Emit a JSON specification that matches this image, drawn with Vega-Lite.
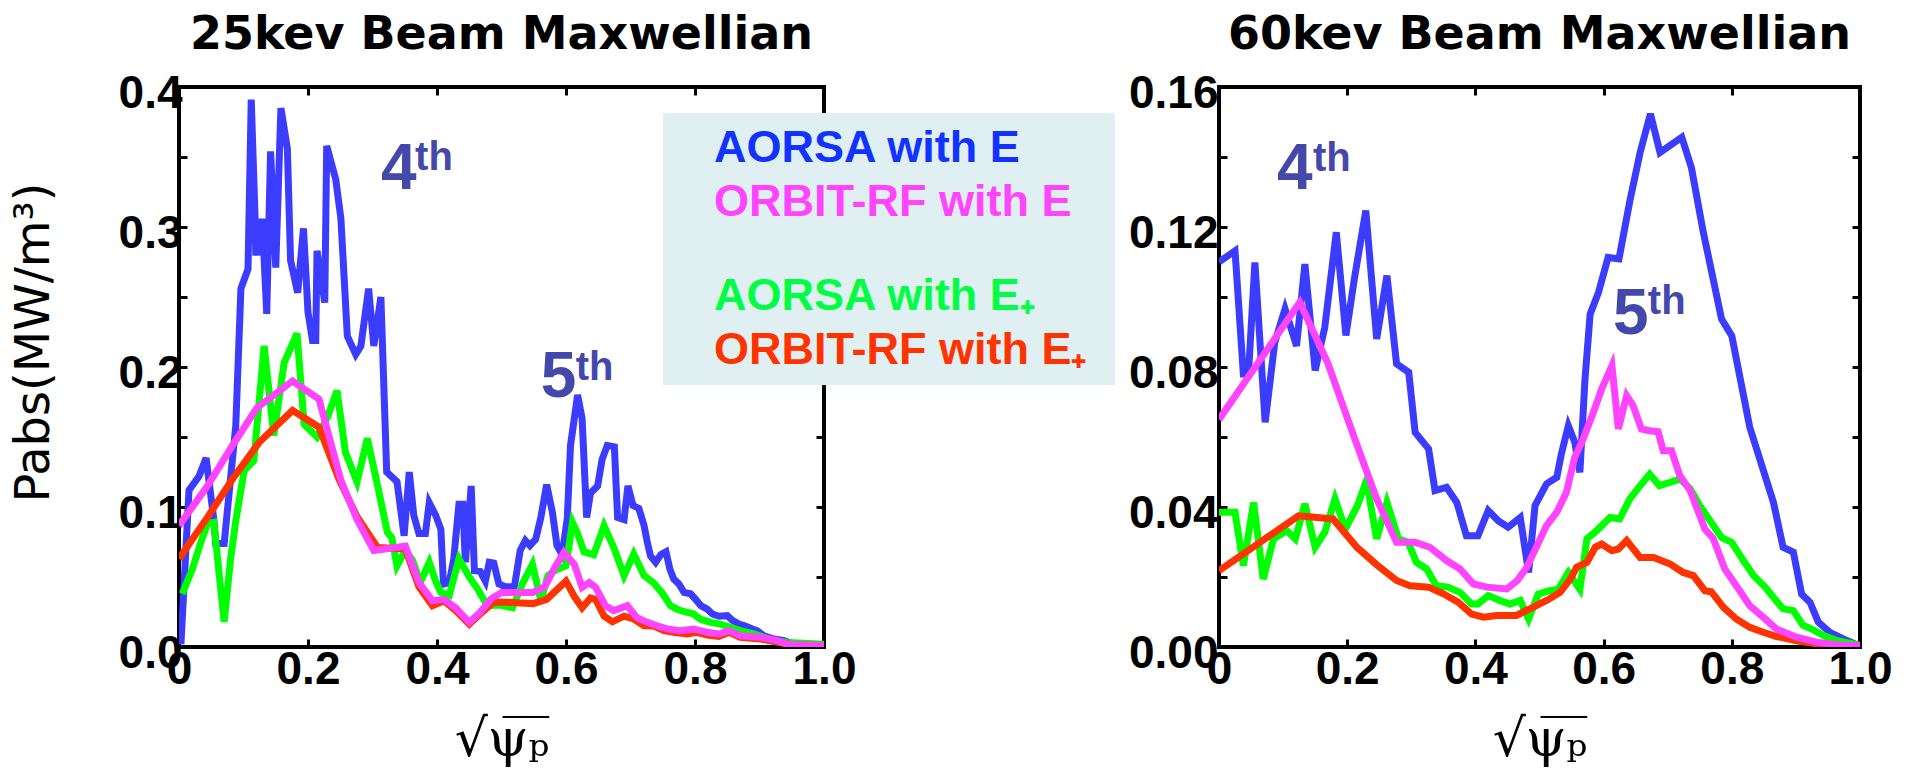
{
  "$schema": "https://vega.github.io/schema/vega-lite/v6.json",
  "background": "white",
  "padding": {"left": 8, "top": 10, "right": 0, "bottom": 0},
  "datasets": {
    "p25": [
      {"series":"AORSA with E","x":0.003,"y":0.002},{"series":"AORSA with E","x":0.0155,"y":0.112},{"series":"AORSA with E","x":0.031,"y":0.122},{"series":"AORSA with E","x":0.042,"y":0.135},{"series":"AORSA with E","x":0.054,"y":0.091},{"series":"AORSA with E","x":0.057,"y":0.074},{"series":"AORSA with E","x":0.07,"y":0.074},{"series":"AORSA with E","x":0.088,"y":0.158},{"series":"AORSA with E","x":0.096,"y":0.256},{"series":"AORSA with E","x":0.107,"y":0.27},{"series":"AORSA with E","x":0.112,"y":0.391},{"series":"AORSA with E","x":0.118,"y":0.306},{"series":"AORSA with E","x":0.119,"y":0.282},{"series":"AORSA with E","x":0.128,"y":0.282},{"series":"AORSA with E","x":0.129,"y":0.306},{"series":"AORSA with E","x":0.136,"y":0.238},{"series":"AORSA with E","x":0.142,"y":0.354},{"series":"AORSA with E","x":0.15,"y":0.271},{"series":"AORSA with E","x":0.158,"y":0.385},{"series":"AORSA with E","x":0.168,"y":0.356},{"series":"AORSA with E","x":0.173,"y":0.276},{"series":"AORSA with E","x":0.184,"y":0.253},{"series":"AORSA with E","x":0.193,"y":0.299},{"series":"AORSA with E","x":0.2,"y":0.239},{"series":"AORSA with E","x":0.207,"y":0.219},{"series":"AORSA with E","x":0.212,"y":0.219},{"series":"AORSA with E","x":0.214,"y":0.283},{"series":"AORSA with E","x":0.226,"y":0.246},{"series":"AORSA with E","x":0.229,"y":0.358},{"series":"AORSA with E","x":0.243,"y":0.334},{"series":"AORSA with E","x":0.251,"y":0.306},{"series":"AORSA with E","x":0.261,"y":0.222},{"series":"AORSA with E","x":0.274,"y":0.209},{"series":"AORSA with E","x":0.282,"y":0.215},{"series":"AORSA with E","x":0.294,"y":0.256},{"series":"AORSA with E","x":0.302,"y":0.215},{"series":"AORSA with E","x":0.313,"y":0.25},{"series":"AORSA with E","x":0.322,"y":0.125},{"series":"AORSA with E","x":0.338,"y":0.118},{"series":"AORSA with E","x":0.349,"y":0.0795},{"series":"AORSA with E","x":0.357,"y":0.125},{"series":"AORSA with E","x":0.364,"y":0.094},{"series":"AORSA with E","x":0.372,"y":0.081},{"series":"AORSA with E","x":0.382,"y":0.081},{"series":"AORSA with E","x":0.388,"y":0.103},{"series":"AORSA with E","x":0.398,"y":0.094},{"series":"AORSA with E","x":0.406,"y":0.084},{"series":"AORSA with E","x":0.41,"y":0.045},{"series":"AORSA with E","x":0.419,"y":0.046},{"series":"AORSA with E","x":0.426,"y":0.063},{"series":"AORSA with E","x":0.434,"y":0.102},{"series":"AORSA with E","x":0.44,"y":0.102},{"series":"AORSA with E","x":0.444,"y":0.0605},{"series":"AORSA with E","x":0.453,"y":0.115},{"series":"AORSA with E","x":0.458,"y":0.0545},{"series":"AORSA with E","x":0.467,"y":0.054},{"series":"AORSA with E","x":0.475,"y":0.047},{"series":"AORSA with E","x":0.481,"y":0.0605},{"series":"AORSA with E","x":0.488,"y":0.06},{"series":"AORSA with E","x":0.496,"y":0.045},{"series":"AORSA with E","x":0.506,"y":0.043},{"series":"AORSA with E","x":0.52,"y":0.043},{"series":"AORSA with E","x":0.529,"y":0.069},{"series":"AORSA with E","x":0.537,"y":0.076},{"series":"AORSA with E","x":0.544,"y":0.0725},{"series":"AORSA with E","x":0.553,"y":0.077},{"series":"AORSA with E","x":0.561,"y":0.0925},{"series":"AORSA with E","x":0.57,"y":0.116},{"series":"AORSA with E","x":0.579,"y":0.096},{"series":"AORSA with E","x":0.586,"y":0.0725},{"series":"AORSA with E","x":0.594,"y":0.066},{"series":"AORSA with E","x":0.602,"y":0.092},{"series":"AORSA with E","x":0.607,"y":0.144},{"series":"AORSA with E","x":0.618,"y":0.18},{"series":"AORSA with E","x":0.625,"y":0.163},{"series":"AORSA with E","x":0.632,"y":0.0925},{"series":"AORSA with E","x":0.638,"y":0.11},{"series":"AORSA with E","x":0.649,"y":0.115},{"series":"AORSA with E","x":0.656,"y":0.134},{"series":"AORSA with E","x":0.664,"y":0.144},{"series":"AORSA with E","x":0.675,"y":0.143},{"series":"AORSA with E","x":0.68,"y":0.0925},{"series":"AORSA with E","x":0.69,"y":0.091},{"series":"AORSA with E","x":0.696,"y":0.115},{"series":"AORSA with E","x":0.704,"y":0.101},{"series":"AORSA with E","x":0.713,"y":0.099},{"series":"AORSA with E","x":0.721,"y":0.0867},{"series":"AORSA with E","x":0.726,"y":0.075},{"series":"AORSA with E","x":0.731,"y":0.065},{"series":"AORSA with E","x":0.739,"y":0.0605},{"series":"AORSA with E","x":0.747,"y":0.066},{"series":"AORSA with E","x":0.755,"y":0.068},{"series":"AORSA with E","x":0.761,"y":0.0557},{"series":"AORSA with E","x":0.767,"y":0.0486},{"series":"AORSA with E","x":0.775,"y":0.045},{"series":"AORSA with E","x":0.783,"y":0.039},{"series":"AORSA with E","x":0.793,"y":0.038},{"series":"AORSA with E","x":0.801,"y":0.034},{"series":"AORSA with E","x":0.809,"y":0.0295},{"series":"AORSA with E","x":0.819,"y":0.027},{"series":"AORSA with E","x":0.827,"y":0.0236},{"series":"AORSA with E","x":0.837,"y":0.022},{"series":"AORSA with E","x":0.85,"y":0.0224},{"series":"AORSA with E","x":0.858,"y":0.019},{"series":"AORSA with E","x":0.868,"y":0.0164},{"series":"AORSA with E","x":0.878,"y":0.015},{"series":"AORSA with E","x":0.889,"y":0.0129},{"series":"AORSA with E","x":0.896,"y":0.0117},{"series":"AORSA with E","x":0.907,"y":0.008},{"series":"AORSA with E","x":0.92,"y":0.006},{"series":"AORSA with E","x":0.938,"y":0.0045},{"series":"AORSA with E","x":0.954,"y":0.002},{"series":"AORSA with E","x":1.0,"y":0.001},
      {"series":"AORSA with E₊","x":0.005,"y":0.038},{"series":"AORSA with E₊","x":0.021,"y":0.056},{"series":"AORSA with E₊","x":0.034,"y":0.075},{"series":"AORSA with E₊","x":0.044,"y":0.088},{"series":"AORSA with E₊","x":0.054,"y":0.089},{"series":"AORSA with E₊","x":0.07,"y":0.018},{"series":"AORSA with E₊","x":0.08,"y":0.063},{"series":"AORSA with E₊","x":0.088,"y":0.09},{"series":"AORSA with E₊","x":0.101,"y":0.126},{"series":"AORSA with E₊","x":0.116,"y":0.133},{"series":"AORSA with E₊","x":0.132,"y":0.215},{"series":"AORSA with E₊","x":0.147,"y":0.151},{"series":"AORSA with E₊","x":0.163,"y":0.203},{"series":"AORSA with E₊","x":0.183,"y":0.224},{"series":"AORSA with E₊","x":0.194,"y":0.159},{"series":"AORSA with E₊","x":0.214,"y":0.15},{"series":"AORSA with E₊","x":0.23,"y":0.164},{"series":"AORSA with E₊","x":0.245,"y":0.183},{"series":"AORSA with E₊","x":0.258,"y":0.139},{"series":"AORSA with E₊","x":0.276,"y":0.118},{"series":"AORSA with E₊","x":0.292,"y":0.149},{"series":"AORSA with E₊","x":0.308,"y":0.115},{"series":"AORSA with E₊","x":0.323,"y":0.082},{"series":"AORSA with E₊","x":0.33,"y":0.078},{"series":"AORSA with E₊","x":0.338,"y":0.058},{"series":"AORSA with E₊","x":0.351,"y":0.069},{"series":"AORSA with E₊","x":0.362,"y":0.062},{"series":"AORSA with E₊","x":0.374,"y":0.046},{"series":"AORSA with E₊","x":0.388,"y":0.0605},{"series":"AORSA with E₊","x":0.398,"y":0.047},{"series":"AORSA with E₊","x":0.406,"y":0.039},{"series":"AORSA with E₊","x":0.419,"y":0.037},{"series":"AORSA with E₊","x":0.434,"y":0.063},{"series":"AORSA with E₊","x":0.45,"y":0.05},{"series":"AORSA with E₊","x":0.463,"y":0.0414},{"series":"AORSA with E₊","x":0.478,"y":0.0295},{"series":"AORSA with E₊","x":0.498,"y":0.03},{"series":"AORSA with E₊","x":0.517,"y":0.028},{"series":"AORSA with E₊","x":0.533,"y":0.0457},{"series":"AORSA with E₊","x":0.548,"y":0.059},{"series":"AORSA with E₊","x":0.561,"y":0.033},{"series":"AORSA with E₊","x":0.572,"y":0.051},{"series":"AORSA with E₊","x":0.584,"y":0.055},{"series":"AORSA with E₊","x":0.6,"y":0.058},{"series":"AORSA with E₊","x":0.61,"y":0.089},{"series":"AORSA with E₊","x":0.618,"y":0.081},{"series":"AORSA with E₊","x":0.628,"y":0.068},{"series":"AORSA with E₊","x":0.643,"y":0.066},{"series":"AORSA with E₊","x":0.659,"y":0.0867},{"series":"AORSA with E₊","x":0.675,"y":0.07},{"series":"AORSA with E₊","x":0.69,"y":0.051},{"series":"AORSA with E₊","x":0.705,"y":0.0664},{"series":"AORSA with E₊","x":0.721,"y":0.051},{"series":"AORSA with E₊","x":0.736,"y":0.0457},{"series":"AORSA with E₊","x":0.749,"y":0.0386},{"series":"AORSA with E₊","x":0.762,"y":0.0295},{"series":"AORSA with E₊","x":0.772,"y":0.027},{"series":"AORSA with E₊","x":0.785,"y":0.025},{"series":"AORSA with E₊","x":0.798,"y":0.0236},{"series":"AORSA with E₊","x":0.808,"y":0.02},{"series":"AORSA with E₊","x":0.824,"y":0.0176},{"series":"AORSA with E₊","x":0.839,"y":0.0164},{"series":"AORSA with E₊","x":0.855,"y":0.014},{"series":"AORSA with E₊","x":0.87,"y":0.0117},{"series":"AORSA with E₊","x":0.891,"y":0.0093},{"series":"AORSA with E₊","x":0.907,"y":0.007},{"series":"AORSA with E₊","x":0.922,"y":0.0045},{"series":"AORSA with E₊","x":0.943,"y":0.0033},{"series":"AORSA with E₊","x":1.0,"y":0.002},
      {"series":"ORBIT-RF with E","x":0.0,"y":0.0867},{"series":"ORBIT-RF with E","x":0.044,"y":0.115},{"series":"ORBIT-RF with E","x":0.083,"y":0.144},{"series":"ORBIT-RF with E","x":0.121,"y":0.171},{"series":"ORBIT-RF with E","x":0.176,"y":0.19},{"series":"ORBIT-RF with E","x":0.217,"y":0.177},{"series":"ORBIT-RF with E","x":0.251,"y":0.119},{"series":"ORBIT-RF with E","x":0.276,"y":0.091},{"series":"ORBIT-RF with E","x":0.302,"y":0.069},{"series":"ORBIT-RF with E","x":0.351,"y":0.072},{"series":"ORBIT-RF with E","x":0.372,"y":0.046},{"series":"ORBIT-RF with E","x":0.393,"y":0.033},{"series":"ORBIT-RF with E","x":0.411,"y":0.034},{"series":"ORBIT-RF with E","x":0.429,"y":0.028},{"series":"ORBIT-RF with E","x":0.45,"y":0.0176},{"series":"ORBIT-RF with E","x":0.467,"y":0.0248},{"series":"ORBIT-RF with E","x":0.483,"y":0.034},{"series":"ORBIT-RF with E","x":0.5,"y":0.039},{"series":"ORBIT-RF with E","x":0.523,"y":0.039},{"series":"ORBIT-RF with E","x":0.549,"y":0.039},{"series":"ORBIT-RF with E","x":0.567,"y":0.043},{"series":"ORBIT-RF with E","x":0.584,"y":0.058},{"series":"ORBIT-RF with E","x":0.597,"y":0.0676},{"series":"ORBIT-RF with E","x":0.613,"y":0.059},{"series":"ORBIT-RF with E","x":0.625,"y":0.0426},{"series":"ORBIT-RF with E","x":0.636,"y":0.046},{"series":"ORBIT-RF with E","x":0.646,"y":0.0426},{"series":"ORBIT-RF with E","x":0.661,"y":0.0295},{"series":"ORBIT-RF with E","x":0.674,"y":0.026},{"series":"ORBIT-RF with E","x":0.695,"y":0.0295},{"series":"ORBIT-RF with E","x":0.71,"y":0.021},{"series":"ORBIT-RF with E","x":0.726,"y":0.0176},{"series":"ORBIT-RF with E","x":0.741,"y":0.0152},{"series":"ORBIT-RF with E","x":0.757,"y":0.0129},{"series":"ORBIT-RF with E","x":0.777,"y":0.0117},{"series":"ORBIT-RF with E","x":0.798,"y":0.0129},{"series":"ORBIT-RF with E","x":0.819,"y":0.0105},{"series":"ORBIT-RF with E","x":0.837,"y":0.0093},{"series":"ORBIT-RF with E","x":0.853,"y":0.0117},{"series":"ORBIT-RF with E","x":0.87,"y":0.008},{"series":"ORBIT-RF with E","x":0.902,"y":0.007},{"series":"ORBIT-RF with E","x":0.928,"y":0.0045},{"series":"ORBIT-RF with E","x":0.943,"y":0.002},{"series":"ORBIT-RF with E","x":1.0,"y":0.001},
      {"series":"ORBIT-RF with E₊","x":0.0,"y":0.063},{"series":"ORBIT-RF with E₊","x":0.044,"y":0.0926},{"series":"ORBIT-RF with E₊","x":0.083,"y":0.12},{"series":"ORBIT-RF with E₊","x":0.124,"y":0.146},{"series":"ORBIT-RF with E₊","x":0.176,"y":0.169},{"series":"ORBIT-RF with E₊","x":0.217,"y":0.157},{"series":"ORBIT-RF with E₊","x":0.248,"y":0.12},{"series":"ORBIT-RF with E₊","x":0.276,"y":0.093},{"series":"ORBIT-RF with E₊","x":0.308,"y":0.071},{"series":"ORBIT-RF with E₊","x":0.351,"y":0.07},{"series":"ORBIT-RF with E₊","x":0.372,"y":0.043},{"series":"ORBIT-RF with E₊","x":0.393,"y":0.0295},{"series":"ORBIT-RF with E₊","x":0.411,"y":0.033},{"series":"ORBIT-RF with E₊","x":0.429,"y":0.026},{"series":"ORBIT-RF with E₊","x":0.45,"y":0.0164},{"series":"ORBIT-RF with E₊","x":0.467,"y":0.0236},{"series":"ORBIT-RF with E₊","x":0.488,"y":0.032},{"series":"ORBIT-RF with E₊","x":0.509,"y":0.032},{"series":"ORBIT-RF with E₊","x":0.529,"y":0.0315},{"series":"ORBIT-RF with E₊","x":0.549,"y":0.031},{"series":"ORBIT-RF with E₊","x":0.57,"y":0.034},{"series":"ORBIT-RF with E₊","x":0.586,"y":0.041},{"series":"ORBIT-RF with E₊","x":0.6,"y":0.047},{"series":"ORBIT-RF with E₊","x":0.613,"y":0.036},{"series":"ORBIT-RF with E₊","x":0.625,"y":0.028},{"series":"ORBIT-RF with E₊","x":0.638,"y":0.035},{"series":"ORBIT-RF with E₊","x":0.646,"y":0.034},{"series":"ORBIT-RF with E₊","x":0.659,"y":0.022},{"series":"ORBIT-RF with E₊","x":0.672,"y":0.018},{"series":"ORBIT-RF with E₊","x":0.69,"y":0.022},{"series":"ORBIT-RF with E₊","x":0.705,"y":0.02},{"series":"ORBIT-RF with E₊","x":0.721,"y":0.0152},{"series":"ORBIT-RF with E₊","x":0.736,"y":0.015},{"series":"ORBIT-RF with E₊","x":0.752,"y":0.0117},{"series":"ORBIT-RF with E₊","x":0.767,"y":0.0105},{"series":"ORBIT-RF with E₊","x":0.788,"y":0.0093},{"series":"ORBIT-RF with E₊","x":0.803,"y":0.0105},{"series":"ORBIT-RF with E₊","x":0.819,"y":0.0086},{"series":"ORBIT-RF with E₊","x":0.837,"y":0.0076},{"series":"ORBIT-RF with E₊","x":0.853,"y":0.0105},{"series":"ORBIT-RF with E₊","x":0.87,"y":0.007},{"series":"ORBIT-RF with E₊","x":0.902,"y":0.0057},{"series":"ORBIT-RF with E₊","x":0.928,"y":0.0033},{"series":"ORBIT-RF with E₊","x":0.954,"y":0.0014},{"series":"ORBIT-RF with E₊","x":1.0,"y":0.001}
    ],
    "p60": [
      {"series":"AORSA with E","x":0.0,"y":0.11},{"series":"AORSA with E","x":0.025,"y":0.1132},{"series":"AORSA with E","x":0.038,"y":0.078},{"series":"AORSA with E","x":0.046,"y":0.078},{"series":"AORSA with E","x":0.056,"y":0.1099},{"series":"AORSA with E","x":0.072,"y":0.0642},{"series":"AORSA with E","x":0.087,"y":0.087},{"series":"AORSA with E","x":0.103,"y":0.0966},{"series":"AORSA with E","x":0.121,"y":0.086},{"series":"AORSA with E","x":0.134,"y":0.1094},{"series":"AORSA with E","x":0.15,"y":0.079},{"series":"AORSA with E","x":0.165,"y":0.0913},{"series":"AORSA with E","x":0.183,"y":0.1185},{"series":"AORSA with E","x":0.198,"y":0.089},{"series":"AORSA with E","x":0.211,"y":0.105},{"series":"AORSA with E","x":0.229,"y":0.1247},{"series":"AORSA with E","x":0.246,"y":0.088},{"series":"AORSA with E","x":0.262,"y":0.1061},{"series":"AORSA with E","x":0.277,"y":0.0809},{"series":"AORSA with E","x":0.296,"y":0.0785},{"series":"AORSA with E","x":0.306,"y":0.0613},{"series":"AORSA with E","x":0.327,"y":0.0566},{"series":"AORSA with E","x":0.337,"y":0.0447},{"series":"AORSA with E","x":0.355,"y":0.0456},{"series":"AORSA with E","x":0.371,"y":0.0413},{"series":"AORSA with E","x":0.386,"y":0.0318},{"series":"AORSA with E","x":0.404,"y":0.0318},{"series":"AORSA with E","x":0.42,"y":0.039},{"series":"AORSA with E","x":0.436,"y":0.036},{"series":"AORSA with E","x":0.451,"y":0.0342},{"series":"AORSA with E","x":0.47,"y":0.037},{"series":"AORSA with E","x":0.483,"y":0.0213},{"series":"AORSA with E","x":0.493,"y":0.0404},{"series":"AORSA with E","x":0.511,"y":0.0466},{"series":"AORSA with E","x":0.527,"y":0.0485},{"series":"AORSA with E","x":0.534,"y":0.0551},{"series":"AORSA with E","x":0.545,"y":0.0632},{"series":"AORSA with E","x":0.555,"y":0.0585},{"series":"AORSA with E","x":0.563,"y":0.0499},{"series":"AORSA with E","x":0.571,"y":0.0766},{"series":"AORSA with E","x":0.579,"y":0.0951},{"series":"AORSA with E","x":0.592,"y":0.1013},{"series":"AORSA with E","x":0.607,"y":0.1113},{"series":"AORSA with E","x":0.624,"y":0.1109},{"series":"AORSA with E","x":0.641,"y":0.1275},{"series":"AORSA with E","x":0.657,"y":0.1413},{"series":"AORSA with E","x":0.673,"y":0.1523},{"series":"AORSA with E","x":0.688,"y":0.1413},{"series":"AORSA with E","x":0.722,"y":0.1456},{"series":"AORSA with E","x":0.737,"y":0.137},{"series":"AORSA with E","x":0.755,"y":0.119},{"series":"AORSA with E","x":0.784,"y":0.0937},{"series":"AORSA with E","x":0.8,"y":0.0889},{"series":"AORSA with E","x":0.828,"y":0.0628},{"series":"AORSA with E","x":0.865,"y":0.0413},{"series":"AORSA with E","x":0.88,"y":0.0285},{"series":"AORSA with E","x":0.896,"y":0.0271},{"series":"AORSA with E","x":0.909,"y":0.0151},{"series":"AORSA with E","x":0.922,"y":0.0128},{"series":"AORSA with E","x":0.935,"y":0.0071},{"series":"AORSA with E","x":0.953,"y":0.0042},{"series":"AORSA with E","x":0.974,"y":0.0023},{"series":"AORSA with E","x":1.0,"y":0.0003},
      {"series":"AORSA with E₊","x":0.0,"y":0.0385},{"series":"AORSA with E₊","x":0.025,"y":0.0385},{"series":"AORSA with E₊","x":0.038,"y":0.0232},{"series":"AORSA with E₊","x":0.054,"y":0.0413},{"series":"AORSA with E₊","x":0.069,"y":0.0194},{"series":"AORSA with E₊","x":0.085,"y":0.0309},{"series":"AORSA with E₊","x":0.106,"y":0.0332},{"series":"AORSA with E₊","x":0.119,"y":0.0309},{"series":"AORSA with E₊","x":0.134,"y":0.0409},{"series":"AORSA with E₊","x":0.15,"y":0.0285},{"series":"AORSA with E₊","x":0.165,"y":0.0328},{"series":"AORSA with E₊","x":0.181,"y":0.0423},{"series":"AORSA with E₊","x":0.197,"y":0.0337},{"series":"AORSA with E₊","x":0.216,"y":0.0404},{"series":"AORSA with E₊","x":0.23,"y":0.0475},{"series":"AORSA with E₊","x":0.246,"y":0.0309},{"series":"AORSA with E₊","x":0.262,"y":0.0413},{"series":"AORSA with E₊","x":0.28,"y":0.0309},{"series":"AORSA with E₊","x":0.295,"y":0.0299},{"series":"AORSA with E₊","x":0.308,"y":0.0242},{"series":"AORSA with E₊","x":0.324,"y":0.0223},{"series":"AORSA with E₊","x":0.339,"y":0.0175},{"series":"AORSA with E₊","x":0.357,"y":0.0171},{"series":"AORSA with E₊","x":0.376,"y":0.0156},{"series":"AORSA with E₊","x":0.394,"y":0.0123},{"series":"AORSA with E₊","x":0.404,"y":0.0123},{"series":"AORSA with E₊","x":0.42,"y":0.0147},{"series":"AORSA with E₊","x":0.438,"y":0.0133},{"series":"AORSA with E₊","x":0.454,"y":0.0123},{"series":"AORSA with E₊","x":0.47,"y":0.0133},{"series":"AORSA with E₊","x":0.483,"y":0.008},{"series":"AORSA with E₊","x":0.498,"y":0.0151},{"series":"AORSA with E₊","x":0.514,"y":0.016},{"series":"AORSA with E₊","x":0.529,"y":0.0165},{"series":"AORSA with E₊","x":0.545,"y":0.0213},{"series":"AORSA with E₊","x":0.563,"y":0.0165},{"series":"AORSA with E₊","x":0.574,"y":0.0309},{"series":"AORSA with E₊","x":0.589,"y":0.0332},{"series":"AORSA with E₊","x":0.61,"y":0.037},{"series":"AORSA with E₊","x":0.625,"y":0.0366},{"series":"AORSA with E₊","x":0.641,"y":0.0423},{"series":"AORSA with E₊","x":0.657,"y":0.0461},{"series":"AORSA with E₊","x":0.672,"y":0.0494},{"series":"AORSA with E₊","x":0.687,"y":0.0461},{"series":"AORSA with E₊","x":0.703,"y":0.047},{"series":"AORSA with E₊","x":0.719,"y":0.048},{"series":"AORSA with E₊","x":0.735,"y":0.0452},{"series":"AORSA with E₊","x":0.75,"y":0.0404},{"series":"AORSA with E₊","x":0.768,"y":0.0356},{"series":"AORSA with E₊","x":0.784,"y":0.0313},{"series":"AORSA with E₊","x":0.8,"y":0.0299},{"series":"AORSA with E₊","x":0.818,"y":0.0247},{"series":"AORSA with E₊","x":0.834,"y":0.0204},{"series":"AORSA with E₊","x":0.852,"y":0.0171},{"series":"AORSA with E₊","x":0.867,"y":0.0137},{"series":"AORSA with E₊","x":0.88,"y":0.0109},{"series":"AORSA with E₊","x":0.896,"y":0.0104},{"series":"AORSA with E₊","x":0.911,"y":0.0062},{"series":"AORSA with E₊","x":0.924,"y":0.0052},{"series":"AORSA with E₊","x":0.943,"y":0.0033},{"series":"AORSA with E₊","x":0.963,"y":0.0019},{"series":"AORSA with E₊","x":1.0,"y":0.0005},
      {"series":"ORBIT-RF with E","x":0.0,"y":0.065},{"series":"ORBIT-RF with E","x":0.126,"y":0.0985},{"series":"ORBIT-RF with E","x":0.17,"y":0.081},{"series":"ORBIT-RF with E","x":0.21,"y":0.0604},{"series":"ORBIT-RF with E","x":0.246,"y":0.0423},{"series":"ORBIT-RF with E","x":0.277,"y":0.0299},{"series":"ORBIT-RF with E","x":0.306,"y":0.0299},{"series":"ORBIT-RF with E","x":0.329,"y":0.0285},{"series":"ORBIT-RF with E","x":0.355,"y":0.0247},{"series":"ORBIT-RF with E","x":0.376,"y":0.0223},{"series":"ORBIT-RF with E","x":0.397,"y":0.018},{"series":"ORBIT-RF with E","x":0.418,"y":0.0171},{"series":"ORBIT-RF with E","x":0.449,"y":0.0166},{"series":"ORBIT-RF with E","x":0.465,"y":0.0189},{"series":"ORBIT-RF with E","x":0.48,"y":0.0227},{"series":"ORBIT-RF with E","x":0.511,"y":0.0347},{"series":"ORBIT-RF with E","x":0.527,"y":0.0385},{"series":"ORBIT-RF with E","x":0.542,"y":0.0442},{"series":"ORBIT-RF with E","x":0.555,"y":0.0542},{"series":"ORBIT-RF with E","x":0.568,"y":0.0594},{"series":"ORBIT-RF with E","x":0.584,"y":0.067},{"series":"ORBIT-RF with E","x":0.597,"y":0.0737},{"series":"ORBIT-RF with E","x":0.613,"y":0.0804},{"series":"ORBIT-RF with E","x":0.623,"y":0.0623},{"series":"ORBIT-RF with E","x":0.636,"y":0.0718},{"series":"ORBIT-RF with E","x":0.646,"y":0.069},{"series":"ORBIT-RF with E","x":0.659,"y":0.0623},{"series":"ORBIT-RF with E","x":0.672,"y":0.0618},{"series":"ORBIT-RF with E","x":0.685,"y":0.0615},{"series":"ORBIT-RF with E","x":0.693,"y":0.0561},{"series":"ORBIT-RF with E","x":0.706,"y":0.0561},{"series":"ORBIT-RF with E","x":0.719,"y":0.0489},{"series":"ORBIT-RF with E","x":0.735,"y":0.0447},{"series":"ORBIT-RF with E","x":0.758,"y":0.0337},{"series":"ORBIT-RF with E","x":0.771,"y":0.031},{"series":"ORBIT-RF with E","x":0.789,"y":0.0223},{"series":"ORBIT-RF with E","x":0.807,"y":0.0175},{"series":"ORBIT-RF with E","x":0.828,"y":0.0118},{"series":"ORBIT-RF with E","x":0.849,"y":0.0085},{"series":"ORBIT-RF with E","x":0.87,"y":0.0051},{"series":"ORBIT-RF with E","x":0.901,"y":0.0028},{"series":"ORBIT-RF with E","x":0.932,"y":0.0014},{"series":"ORBIT-RF with E","x":0.968,"y":0.0006},{"series":"ORBIT-RF with E","x":1.0,"y":0.0003},
      {"series":"ORBIT-RF with E₊","x":0.0,"y":0.0218},{"series":"ORBIT-RF with E₊","x":0.124,"y":0.0375},{"series":"ORBIT-RF with E₊","x":0.178,"y":0.0366},{"series":"ORBIT-RF with E₊","x":0.215,"y":0.0285},{"series":"ORBIT-RF with E₊","x":0.246,"y":0.0235},{"series":"ORBIT-RF with E₊","x":0.277,"y":0.019},{"series":"ORBIT-RF with E₊","x":0.298,"y":0.0175},{"series":"ORBIT-RF with E₊","x":0.327,"y":0.0171},{"series":"ORBIT-RF with E₊","x":0.35,"y":0.0152},{"series":"ORBIT-RF with E₊","x":0.373,"y":0.0128},{"series":"ORBIT-RF with E₊","x":0.394,"y":0.0094},{"series":"ORBIT-RF with E₊","x":0.413,"y":0.0085},{"series":"ORBIT-RF with E₊","x":0.433,"y":0.009},{"series":"ORBIT-RF with E₊","x":0.464,"y":0.009},{"series":"ORBIT-RF with E₊","x":0.485,"y":0.0109},{"series":"ORBIT-RF with E₊","x":0.511,"y":0.0133},{"series":"ORBIT-RF with E₊","x":0.532,"y":0.0156},{"series":"ORBIT-RF with E₊","x":0.548,"y":0.0194},{"series":"ORBIT-RF with E₊","x":0.558,"y":0.0228},{"series":"ORBIT-RF with E₊","x":0.574,"y":0.0242},{"series":"ORBIT-RF with E₊","x":0.587,"y":0.0285},{"series":"ORBIT-RF with E₊","x":0.597,"y":0.0294},{"series":"ORBIT-RF with E₊","x":0.613,"y":0.0275},{"series":"ORBIT-RF with E₊","x":0.623,"y":0.028},{"series":"ORBIT-RF with E₊","x":0.636,"y":0.0304},{"series":"ORBIT-RF with E₊","x":0.657,"y":0.0256},{"series":"ORBIT-RF with E₊","x":0.678,"y":0.0256},{"series":"ORBIT-RF with E₊","x":0.704,"y":0.0237},{"series":"ORBIT-RF with E₊","x":0.724,"y":0.0213},{"series":"ORBIT-RF with E₊","x":0.74,"y":0.0204},{"series":"ORBIT-RF with E₊","x":0.758,"y":0.0161},{"series":"ORBIT-RF with E₊","x":0.768,"y":0.0158},{"series":"ORBIT-RF with E₊","x":0.787,"y":0.0113},{"series":"ORBIT-RF with E₊","x":0.807,"y":0.008},{"series":"ORBIT-RF with E₊","x":0.828,"y":0.0056},{"series":"ORBIT-RF with E₊","x":0.849,"y":0.0042},{"series":"ORBIT-RF with E₊","x":0.87,"y":0.003},{"series":"ORBIT-RF with E₊","x":0.901,"y":0.0018},{"series":"ORBIT-RF with E₊","x":0.932,"y":0.0009},{"series":"ORBIT-RF with E₊","x":0.968,"y":0.0004},{"series":"ORBIT-RF with E₊","x":1.0,"y":0.0002}
    ],
    "n25big": [{"label":"4","x":0.313,"y":0.327},{"label":"5","x":0.561,"y":0.1786}],
    "n25small": [{"label":"th","x":0.366,"y":0.341},{"label":"th","x":0.615,"y":0.191}],
    "n60big": [{"label":"4","x":0.0905,"y":0.1309},{"label":"5","x":0.6147,"y":0.0894}],
    "n60small": [{"label":"th","x":0.1466,"y":0.136},{"label":"th","x":0.669,"y":0.0951}]
  },
  "spacing": 9,
  "resolve": {
    "scale": {"x": "independent", "y": "independent", "color": "independent"},
    "legend": {"color": "independent"}
  },
  "hconcat": [
    {
      "width": 645,
      "height": 560,
      "title": {"text": "25kev Beam Maxwellian"},
      "resolve": {"axis": {"x": "independent", "y": "independent"}},
      "layer": [
        {
          "data": {"name": "p25"},
          "transform": [{"filter": "datum.series == 'AORSA with E'"}],
          "mark": {"type": "line", "strokeWidth": 7, "clip": true},
          "encoding": {
            "x": {"field": "x", "type": "quantitative", "scale": {"domain": [0, 1]},
              "axis": {"orient": "bottom", "values": [0, 0.2, 0.4, 0.6, 0.8, 1], "labelExpr": "datum.value == 0 ? '0' : format(datum.value, '.1f')", "labelFlush": false, "labelPadding": 8, "title": "√ψ̅ₚ̅", "titleFont": "DejaVu Serif", "titleFontSize": 52, "titleFontWeight": "normal", "titlePadding": 22}},
            "y": {"field": "y", "type": "quantitative", "scale": {"domain": [0, 0.4]},
              "axis": {"orient": "left", "values": [0, 0.05, 0.1, 0.15, 0.2, 0.25, 0.3, 0.35, 0.4], "labelExpr": "(round(datum.value * 100) % 10 == 0) ? format(datum.value, '.1f') : ''", "labelPadding": 5, "labelOffset": 6, "title": "Pabs(MW/m³)", "titleFont": "DejaVu Sans", "titleFontSize": 48, "titleFontWeight": "normal", "titlePadding": 60, "titleY": 255}},
            "color": {"field": "series", "type": "nominal",
              "scale": {"domain": ["AORSA with E", "ORBIT-RF with E", "~", "AORSA with E₊", "ORBIT-RF with E₊"], "range": ["#3c3cff", "#ff44ff", "#ffffff", "#00ff00", "#ff3300"]},
              "legend": {"orient": "none", "legendX": 484, "legendY": 26, "title": "MM", "titleOrient": "right", "titleFontSize": 10, "titlePadding": 0, "titleOpacity": 0, "titleColor": "rgba(0,0,0,0)", "fillColor": "#e0eff2", "padding": 12, "labelFont": "Liberation Sans", "labelFontSize": 45, "labelFontWeight": "bold", "labelLimit": 0, "symbolOpacity": 0, "symbolStrokeWidth": 0, "symbolSize": 100, "symbolType": "circle", "labelOffset": -6, "rowPadding": 8,
                "encode": {"labels": {"update": {
                  "text": {"signal": "datum.value === '~' ? ' ' : datum.label"},
                  "fontSize": {"signal": "datum.value === '~' ? 18 : 45"},
                  "fill": {"signal": "datum.value === 'AORSA with E' ? '#1133ff' : datum.value === 'ORBIT-RF with E' ? '#ff44ff' : datum.value === 'AORSA with E₊' ? '#00ff44' : '#ff3300'"}}}}}}
          }
        },
        {
          "data": {"name": "p25"},
          "transform": [{"filter": "datum.series == 'AORSA with E₊'"}],
          "mark": {"type": "line", "strokeWidth": 7, "clip": true},
          "encoding": {
            "x": {"field": "x", "type": "quantitative", "axis": null},
            "y": {"field": "y", "type": "quantitative", "axis": null},
            "color": {"field": "series", "type": "nominal"}
          }
        },
        {
          "data": {"name": "p25"},
          "transform": [{"filter": "datum.series == 'ORBIT-RF with E₊'"}],
          "mark": {"type": "line", "strokeWidth": 7, "clip": true},
          "encoding": {
            "x": {"field": "x", "type": "quantitative", "axis": null},
            "y": {"field": "y", "type": "quantitative", "axis": null},
            "color": {"field": "series", "type": "nominal"}
          }
        },
        {
          "data": {"name": "p25"},
          "transform": [{"filter": "datum.series == 'ORBIT-RF with E'"}],
          "mark": {"type": "line", "strokeWidth": 7, "clip": true},
          "encoding": {
            "x": {"field": "x", "type": "quantitative", "axis": null},
            "y": {"field": "y", "type": "quantitative", "axis": null},
            "color": {"field": "series", "type": "nominal"}
          }
        },
        {
          "data": {"name": "n25big"},
          "mark": {"type": "text", "font": "Liberation Sans", "fontSize": 64, "fontWeight": "bold", "color": "#4448aa", "align": "left", "baseline": "alphabetic"},
          "encoding": {
            "x": {"field": "x", "type": "quantitative", "axis": {"orient": "top", "values": [0.2, 0.4, 0.6, 0.8], "labels": false, "title": null}},
            "y": {"field": "y", "type": "quantitative", "axis": {"orient": "right", "values": [0.05, 0.1, 0.15, 0.2, 0.25, 0.3, 0.35], "labels": false, "title": null}},
            "text": {"field": "label"}
          }
        },
        {
          "data": {"name": "n25small"},
          "mark": {"type": "text", "font": "Liberation Sans", "fontSize": 40, "fontWeight": "bold", "color": "#4448aa", "align": "left", "baseline": "alphabetic"},
          "encoding": {
            "x": {"field": "x", "type": "quantitative", "axis": null},
            "y": {"field": "y", "type": "quantitative", "axis": null},
            "text": {"field": "label"}
          }
        }
      ]
    },
    {
      "width": 641,
      "height": 560,
      "title": {"text": "60kev Beam Maxwellian"},
      "resolve": {"axis": {"x": "independent", "y": "independent"}},
      "layer": [
        {
          "data": {"name": "p60"},
          "transform": [{"filter": "datum.series == 'AORSA with E'"}],
          "mark": {"type": "line", "strokeWidth": 7, "clip": true},
          "encoding": {
            "x": {"field": "x", "type": "quantitative", "scale": {"domain": [0, 1]},
              "axis": {"orient": "bottom", "values": [0, 0.2, 0.4, 0.6, 0.8, 1], "labelExpr": "datum.value == 0 ? '0' : format(datum.value, '.1f')", "labelFlush": false, "labelPadding": 8, "title": "√ψ̅ₚ̅", "titleFont": "DejaVu Serif", "titleFontSize": 52, "titleFontWeight": "normal", "titlePadding": 22}},
            "y": {"field": "y", "type": "quantitative", "scale": {"domain": [0, 0.16]},
              "axis": {"orient": "left", "values": [0, 0.02, 0.04, 0.06, 0.08, 0.1, 0.12, 0.14, 0.16], "labelExpr": "(round(datum.value * 100) % 4 == 0) ? format(datum.value, '.2f') : ''", "labelPadding": 9, "labelOffset": 6, "title": null}},
            "color": {"field": "series", "type": "nominal", "scale": {"domain": ["AORSA with E", "ORBIT-RF with E", "~", "AORSA with E₊", "ORBIT-RF with E₊"], "range": ["#3c3cff", "#ff44ff", "#ffffff", "#00ff00", "#ff3300"]}, "legend": null}
          }
        },
        {
          "data": {"name": "p60"},
          "transform": [{"filter": "datum.series == 'AORSA with E₊'"}],
          "mark": {"type": "line", "strokeWidth": 7, "clip": true},
          "encoding": {
            "x": {"field": "x", "type": "quantitative", "axis": null},
            "y": {"field": "y", "type": "quantitative", "axis": null},
            "color": {"field": "series", "type": "nominal", "legend": null}
          }
        },
        {
          "data": {"name": "p60"},
          "transform": [{"filter": "datum.series == 'ORBIT-RF with E₊'"}],
          "mark": {"type": "line", "strokeWidth": 7, "clip": true},
          "encoding": {
            "x": {"field": "x", "type": "quantitative", "axis": null},
            "y": {"field": "y", "type": "quantitative", "axis": null},
            "color": {"field": "series", "type": "nominal", "legend": null}
          }
        },
        {
          "data": {"name": "p60"},
          "transform": [{"filter": "datum.series == 'ORBIT-RF with E'"}],
          "mark": {"type": "line", "strokeWidth": 7, "clip": true},
          "encoding": {
            "x": {"field": "x", "type": "quantitative", "axis": null},
            "y": {"field": "y", "type": "quantitative", "axis": null},
            "color": {"field": "series", "type": "nominal", "legend": null}
          }
        },
        {
          "data": {"name": "n60big"},
          "mark": {"type": "text", "font": "Liberation Sans", "fontSize": 64, "fontWeight": "bold", "color": "#4448aa", "align": "left", "baseline": "alphabetic"},
          "encoding": {
            "x": {"field": "x", "type": "quantitative", "axis": {"orient": "top", "values": [0.2, 0.4, 0.6, 0.8], "labels": false, "title": null}},
            "y": {"field": "y", "type": "quantitative", "axis": {"orient": "right", "values": [0.02, 0.04, 0.06, 0.08, 0.1, 0.12, 0.14], "labels": false, "title": null}},
            "text": {"field": "label"}
          }
        },
        {
          "data": {"name": "n60small"},
          "mark": {"type": "text", "font": "Liberation Sans", "fontSize": 40, "fontWeight": "bold", "color": "#4448aa", "align": "left", "baseline": "alphabetic"},
          "encoding": {
            "x": {"field": "x", "type": "quantitative", "axis": null},
            "y": {"field": "y", "type": "quantitative", "axis": null},
            "text": {"field": "label"}
          }
        }
      ]
    }
  ],
  "config": {
    "view": {"stroke": "black", "strokeWidth": 4},
    "axis": {"labelFont": "Liberation Sans", "labelFontSize": 46, "labelFontWeight": "bold", "labelColor": "black", "tickColor": "black", "tickWidth": 3, "tickSize": -8, "domain": false, "grid": false, "titleColor": "black", "labelOverlap": false},
    "title": {"font": "DejaVu Sans", "fontSize": 46, "fontWeight": "bold", "color": "black", "anchor": "middle", "offset": 11},
    "legend": {"strokeColor": null}
  }
}
